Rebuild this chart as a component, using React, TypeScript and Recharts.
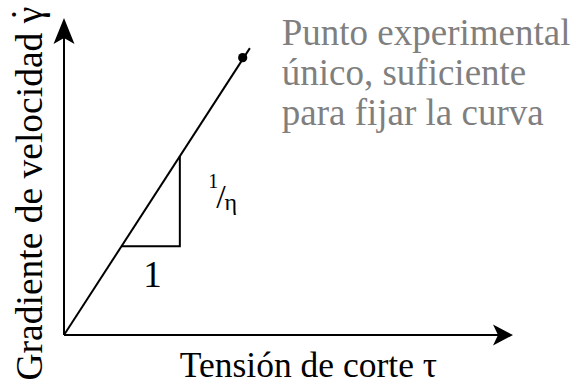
import React from 'react';
import { ComposedChart, XAxis, YAxis, Line, Scatter, ReferenceDot } from 'recharts';

const FONT = "'Liberation Serif', 'Times New Roman', serif";

// data (x: shear stress, y: velocity gradient), arbitrary units 0..100
const xAxisLine = [{ x: 0, y: 0 }, { x: 97, y: 0 }];
const yAxisLine = [{ x: 0, y: 0 }, { x: 0, y: 96 }];
const flowLine = [{ x: 0, y: 0 }, { x: 41.4, y: 90.5 }];
const experimentalPoint = [{ x: 39.8, y: 87.5 }];
const slopeTriangle = [{ x: 12.8, y: 28 }, { x: 25.8, y: 28 }, { x: 25.8, y: 56.4 }];
const xArrow = [{ x: 100, y: 0 }];
const yArrow = [{ x: 0, y: 100 }];

// texts
const xAxisLabel = 'Tensión de corte τ';
const yAxisLabel = 'Gradiente de velocidad γ';
const yAxisDot = '˙';
const noteLines = ['Punto experimental', 'único, suficiente', 'para fijar la curva'];
const runLabel = '1';
const riseLabel = ['1', '/', 'η'];

const XArrowHead = (p: any) => {
  const { cx, cy } = p;
  return (
    <polygon
      points={`${cx},${cy} ${cx - 20},${cy - 10.5} ${cx - 15},${cy} ${cx - 20},${cy + 10.5}`}
      fill="#000"
    />
  );
};

const YArrowHead = (p: any) => {
  const { cx, cy } = p;
  return (
    <polygon
      points={`${cx},${cy} ${cx - 10.5},${cy + 26} ${cx},${cy + 20} ${cx + 10.5},${cy + 26}`}
      fill="#000"
    />
  );
};

const BigDot = (p: any) => <circle cx={p.cx} cy={p.cy} r={4.6} fill="#000" />;

export default function App() {
  return (
    <div style={{ position: 'absolute', left: 0, top: 0, background: '#fff' }}>
      <ComposedChart
        width={576}
        height={383}
        margin={{ top: 18, right: 63, bottom: 48, left: 64 }}
      >
        <XAxis type="number" dataKey="x" domain={[0, 100]} hide />
        <YAxis type="number" dataKey="y" domain={[0, 100]} hide />
        <Line data={xAxisLine} dataKey="y" stroke="#000" strokeWidth={2} dot={false} activeDot={false} isAnimationActive={false} />
        <Line data={yAxisLine} dataKey="y" stroke="#000" strokeWidth={2} dot={false} activeDot={false} isAnimationActive={false} />
        <Line data={flowLine} dataKey="y" stroke="#000" strokeWidth={2} dot={false} activeDot={false} isAnimationActive={false} />
        <Line data={slopeTriangle} dataKey="y" stroke="#000" strokeWidth={2} dot={false} activeDot={false} isAnimationActive={false} />
        <Scatter data={experimentalPoint} shape={BigDot} isAnimationActive={false} />
        <Scatter data={xArrow} shape={XArrowHead} isAnimationActive={false} />
        <Scatter data={yArrow} shape={YArrowHead} isAnimationActive={false} />

        <ReferenceDot
          x={48.5}
          y={91.5}
          r={0}
          ifOverflow="visible"
          shape={(p: any) => (
            <text x={p.cx} y={p.cy} fill="#7f7f7f" fontFamily={FONT} fontSize={37}>
              {noteLines.map((t, i) => (
                <tspan key={i} x={p.cx} dy={i === 0 ? 0 : 40}>
                  {t}
                </tspan>
              ))}
            </text>
          )}
        />
        <ReferenceDot
          x={19.7}
          y={15.1}
          r={0}
          ifOverflow="visible"
          shape={(p: any) => (
            <text x={p.cx} y={p.cy} textAnchor="middle" fill="#000" fontFamily={FONT} fontSize={37}>
              {runLabel}
            </text>
          )}
        />
        <ReferenceDot
          x={32.1}
          y={46.4}
          r={0}
          ifOverflow="visible"
          shape={(p: any) => (
            <text x={p.cx} y={p.cy} fontFamily={FONT} fill="#000">
              <tspan fontSize={20}>{riseLabel[0]}</tspan>
              <tspan fontSize={34} dx={-2} dy={20}>{riseLabel[1]}</tspan>
              <tspan fontSize={24} dx={-1} dy={2}>{riseLabel[2]}</tspan>
            </text>
          )}
        />
        <ReferenceDot
          x={25.8}
          y={-13.2}
          r={0}
          ifOverflow="visible"
          shape={(p: any) => (
            <text x={p.cx} y={p.cy} fill="#000" fontFamily={FONT} fontSize={35.5}>
              {xAxisLabel}
            </text>
          )}
        />
        <ReferenceDot
          x={-4.9}
          y={44.6}
          r={0}
          ifOverflow="visible"
          shape={(p: any) => (
            <text
              x={p.cx}
              y={p.cy}
              textAnchor="middle"
              transform={`rotate(-90 ${p.cx} ${p.cy})`}
              fill="#000"
              fontFamily={FONT}
              fontSize={37.5}
            >
              {yAxisLabel}
              <tspan dx={-14} dy={-5}>{yAxisDot}</tspan>
            </text>
          )}
        />
      </ComposedChart>
    </div>
  );
}
